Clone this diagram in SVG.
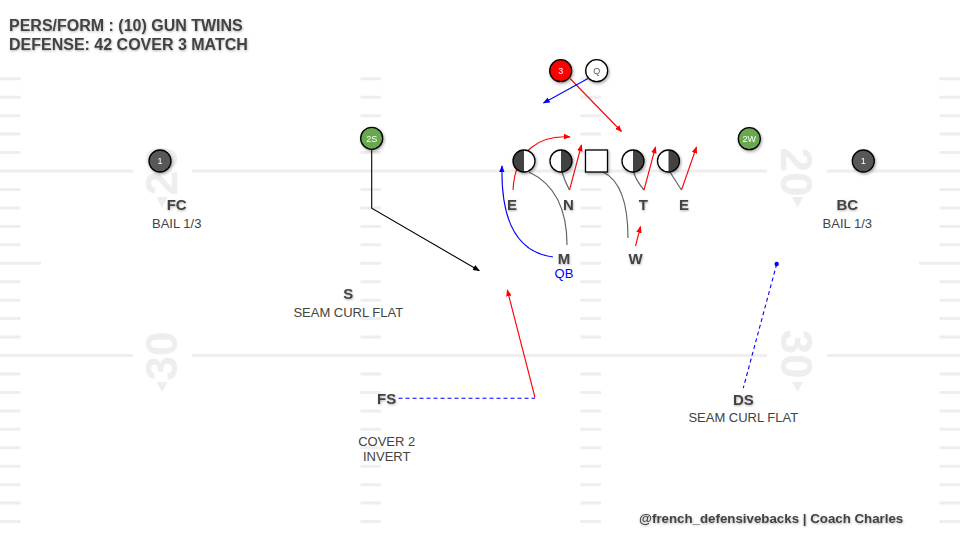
<svg xmlns="http://www.w3.org/2000/svg" width="960" height="540" viewBox="0 0 960 540">
<defs>
<style>
.field{stroke:#eeeeee;stroke-width:3;fill:none}
.num{font-family:"Liberation Sans",Arial,sans-serif;font-weight:bold;font-size:44px;fill:#eeeeee;text-anchor:middle}
.tri{fill:#eeeeee}
.title{font-family:"Liberation Sans",Arial,sans-serif;font-weight:bold;font-size:16px;fill:#434343}
.lbl{font-family:"Liberation Sans",Arial,sans-serif;font-weight:bold;font-size:15px;fill:#434343;text-anchor:middle}
.sub{font-family:"Liberation Sans",Arial,sans-serif;font-size:13px;fill:#434343;text-anchor:middle}
.qb{font-family:"Liberation Sans",Arial,sans-serif;font-size:13px;fill:#0000ff;text-anchor:middle}
.pc{stroke:#000;stroke-width:1.3}
.pt{font-family:"Liberation Sans",Arial,sans-serif;font-size:9px;text-anchor:middle}
.red{stroke:#ff0000;stroke-width:1.1;fill:none}
.blue{stroke:#0000ff;stroke-width:1.1;fill:none}
.blk{stroke:#000;stroke-width:1.1;fill:none}
.gry{stroke:#666;stroke-width:1.2;fill:none}
.dash{stroke-dasharray:4,3}
</style>
<filter id="sh" x="-50%" y="-50%" width="200%" height="200%">
<feDropShadow dx="1" dy="1.5" stdDeviation="1.5" flood-color="#000" flood-opacity="0.35"/>
</filter>
<filter id="tsh" x="-20%" y="-50%" width="140%" height="200%">
<feDropShadow dx="0.5" dy="1" stdDeviation="1" flood-color="#000" flood-opacity="0.3"/>
</filter>
<marker id="ar" viewBox="0 0 10 10" refX="9" refY="5" markerWidth="7" markerHeight="7" markerUnits="userSpaceOnUse" orient="auto"><path d="M0,1 L10,5 L0,9 Z" fill="#ff0000"/></marker>
<marker id="ab" viewBox="0 0 10 10" refX="9" refY="5" markerWidth="7" markerHeight="7" markerUnits="userSpaceOnUse" orient="auto"><path d="M0,1 L10,5 L0,9 Z" fill="#0000ff"/></marker>
<marker id="ak" viewBox="0 0 10 10" refX="9" refY="5" markerWidth="7" markerHeight="7" markerUnits="userSpaceOnUse" orient="auto"><path d="M0,1 L10,5 L0,9 Z" fill="#000"/></marker>
</defs>
<rect width="960" height="540" fill="#ffffff"/>
<g id="field">
<path class="field" d="M0,171H133M192,171H767M827,171H960M0,355.5H133M192,355.5H767M827,355.5H960"/>
<path class="field" d="M0,78.8H20.5M0,97.2H20.5M0,115.7H20.5M0,134.1H20.5M0,152.6H20.5M0,189.5H20.5M0,207.9H20.5M0,226.4H20.5M0,244.8H20.5M0,263.3H41M0,281.7H20.5M0,300.2H20.5M0,318.6H20.5M0,337.1H20.5M0,374H20.5M0,392.4H20.5M0,410.9H20.5M0,429.3H20.5M0,447.8H20.5M0,466.2H20.5M0,484.7H20.5M0,503.1H20.5M0,521.6H20.5"/>
<path class="field" d="M939.5,78.8H960M939.5,97.2H960M939.5,115.7H960M939.5,134.1H960M939.5,152.6H960M939.5,189.5H960M939.5,207.9H960M939.5,226.4H960M939.5,244.8H960M919,263.3H960M939.5,281.7H960M939.5,300.2H960M939.5,318.6H960M939.5,337.1H960M939.5,374H960M939.5,392.4H960M939.5,410.9H960M939.5,429.3H960M939.5,447.8H960M939.5,466.2H960M939.5,484.7H960M939.5,503.1H960M939.5,521.6H960"/>
<path class="field" d="M360.5,78.8H381M360.5,97.2H381M360.5,115.7H381M360.5,134.1H381M360.5,152.6H381M360.5,189.5H381M360.5,207.9H381M360.5,226.4H381M360.5,244.8H381M360.5,263.3H381M360.5,281.7H381M360.5,300.2H381M360.5,318.6H381M360.5,337.1H381M360.5,374H381M360.5,392.4H381M360.5,410.9H381M360.5,429.3H381M360.5,447.8H381M360.5,466.2H381M360.5,484.7H381M360.5,503.1H381M360.5,521.6H381"/>
<path class="field" d="M580.5,78.8H601M580.5,97.2H601M580.5,115.7H601M580.5,134.1H601M580.5,152.6H601M580.5,189.5H601M580.5,207.9H601M580.5,226.4H601M580.5,244.8H601M580.5,263.3H601M580.5,281.7H601M580.5,300.2H601M580.5,318.6H601M580.5,337.1H601M580.5,374H601M580.5,392.4H601M580.5,410.9H601M580.5,429.3H601M580.5,447.8H601M580.5,466.2H601M580.5,484.7H601M580.5,503.1H601M580.5,521.6H601"/>
<text class="num" transform="translate(177,171) rotate(-90)">20</text>
<text class="num" transform="translate(177,356) rotate(-90)">30</text>
<text class="num" transform="translate(781,172) rotate(90)">20</text>
<text class="num" transform="translate(781,354) rotate(90)">30</text>
<path class="tri" d="M156.5,197L167.5,197L162,208Z"/>
<path class="tri" d="M156.5,382L167.5,382L162,392Z"/>
<path class="tri" d="M792,197L803,197L797.5,208Z"/>
<path class="tri" d="M792,382L803,382L797.5,392Z"/>
</g>
<g id="title" filter="url(#tsh)">
<text class="title" x="9" y="30.5">PERS/FORM : (10) GUN TWINS</text>
<text class="title" x="9" y="50">DEFENSE: 42 COVER 3 MATCH</text>
</g>
<g id="connectors">
<path class="red" d="M570,78.5L621.5,131.5" marker-end="url(#ar)"/>
<path class="blue" d="M588,78.5L543.5,103" marker-end="url(#ab)"/>
<path class="red" d="M513,190C515,150 540,135 570,137" marker-end="url(#ar)"/>
<path class="gry" d="M529,172Q567,190 567,245"/>
<path class="gry" d="M562,172Q565,182 569.5,190"/>
<path class="red" d="M569.5,190L581.5,145" marker-end="url(#ar)"/>
<path class="gry" d="M603,172Q628,184 628,238"/>
<path class="gry" d="M633.5,172Q637,182 644,190"/>
<path class="red" d="M644,190L655.5,147" marker-end="url(#ar)"/>
<path class="gry" d="M670,172Q675,180 681.5,190"/>
<path class="red" d="M681.5,190L696.5,147" marker-end="url(#ar)"/>
<path class="blue" d="M553,257Q500,250 502,166" marker-end="url(#ab)"/>
<path class="red" d="M635.5,246L640.5,226.5" marker-end="url(#ar)"/>
<path class="blk" d="M371.7,149V208.3L479.3,270.7" marker-end="url(#ak)"/>
<path class="red" d="M535,397.5L507.3,290" marker-end="url(#ar)"/>
<path class="blue dash" d="M398.5,398.3H535"/>
<path class="blue dash" d="M776.7,264L743.3,388"/>
<circle cx="776.7" cy="264" r="2.2" fill="#0000ff"/>
</g>
<g id="p-3" filter="url(#sh)"><circle class="pc" cx="560.7" cy="70.7" r="11" fill="#ff0000"/><text class="pt" x="560.7" y="73.8" fill="#ffffff">3</text></g>
<g id="p-Q" filter="url(#sh)"><circle class="pc" cx="596.7" cy="70.7" r="11" fill="#ffffff"/><text class="pt" x="596.7" y="73.8" fill="#555555">Q</text></g>
<g id="ol-E1" filter="url(#sh)"><circle cx="524" cy="161" r="11" fill="#ffffff"/><path d="M524,150A11,11 0 0 0 524,172Z" fill="#434343"/><circle class="pc" cx="524" cy="161" r="11" fill="none"/></g>
<g id="ol-N" filter="url(#sh)"><circle cx="561" cy="161" r="11" fill="#ffffff"/><path d="M561,150A11,11 0 0 1 561,172Z" fill="#434343"/><circle class="pc" cx="561" cy="161" r="11" fill="none"/></g>
<g id="ol-C" filter="url(#sh)"><rect class="pc" x="585.5" y="150" width="22" height="22" fill="#ffffff"/></g>
<g id="ol-T" filter="url(#sh)"><circle cx="633" cy="161" r="11" fill="#ffffff"/><path d="M633,150A11,11 0 0 1 633,172Z" fill="#434343"/><circle class="pc" cx="633" cy="161" r="11" fill="none"/></g>
<g id="ol-E2" filter="url(#sh)"><circle cx="668.5" cy="161" r="11" fill="#ffffff"/><path d="M668.5,150A11,11 0 0 1 668.5,172Z" fill="#434343"/><circle class="pc" cx="668.5" cy="161" r="11" fill="none"/></g>
<g id="p-FC" filter="url(#sh)"><circle class="pc" cx="160" cy="161" r="11" fill="#595959"/><text class="pt" x="160" y="164.2" fill="#ffffff">1</text></g>
<g id="p-BC" filter="url(#sh)"><circle class="pc" cx="863.3" cy="161" r="11" fill="#595959"/><text class="pt" x="863.3" y="164.2" fill="#ffffff">1</text></g>
<g id="p-2S" filter="url(#sh)"><circle class="pc" cx="371.7" cy="138.3" r="11" fill="#6aa84f"/><text class="pt" x="371.7" y="141.5" fill="#ffffff">2S</text></g>
<g id="p-2W" filter="url(#sh)"><circle class="pc" cx="749.3" cy="138.7" r="11" fill="#6aa84f"/><text class="pt" x="749.3" y="141.9" fill="#ffffff">2W</text></g>
<g id="labels">
<g id="d-E1"><text class="lbl" x="512" y="209.5" filter="url(#tsh)">E</text></g>
<g id="d-N"><text class="lbl" x="568.3" y="209.5" filter="url(#tsh)">N</text></g>
<g id="d-T"><text class="lbl" x="643.3" y="209.5" filter="url(#tsh)">T</text></g>
<g id="d-E2"><text class="lbl" x="684" y="209.5" filter="url(#tsh)">E</text></g>
<g id="d-M"><text class="lbl" x="564" y="263.5" filter="url(#tsh)">M</text><text class="qb" x="564" y="278">QB</text></g>
<g id="d-W"><text class="lbl" x="635.7" y="263.5" filter="url(#tsh)">W</text></g>
<g id="d-FC"><text class="lbl" x="176.7" y="209.5" filter="url(#tsh)">FC</text><text class="sub" x="176.7" y="227.8">BAIL 1/3</text></g>
<g id="d-BC"><text class="lbl" x="847.3" y="209.5" filter="url(#tsh)">BC</text><text class="sub" x="847.3" y="227.8">BAIL 1/3</text></g>
<g id="d-S"><text class="lbl" x="348.3" y="298.8" filter="url(#tsh)">S</text><text class="sub" x="348.3" y="317.2">SEAM CURL FLAT</text></g>
<g id="d-FS"><text class="lbl" x="386.7" y="403.8" filter="url(#tsh)">FS</text><text class="sub" x="386.7" y="445.5">COVER 2</text><text class="sub" x="386.7" y="460.8">INVERT</text></g>
<g id="d-DS"><text class="lbl" x="743.3" y="404.8" filter="url(#tsh)">DS</text><text class="sub" x="743.3" y="421.8">SEAM CURL FLAT</text></g>
</g>
<g id="credit"><text class="title" x="639" y="523" style="font-size:13.3px" filter="url(#tsh)">@french_defensivebacks | Coach Charles</text></g>
</svg>
